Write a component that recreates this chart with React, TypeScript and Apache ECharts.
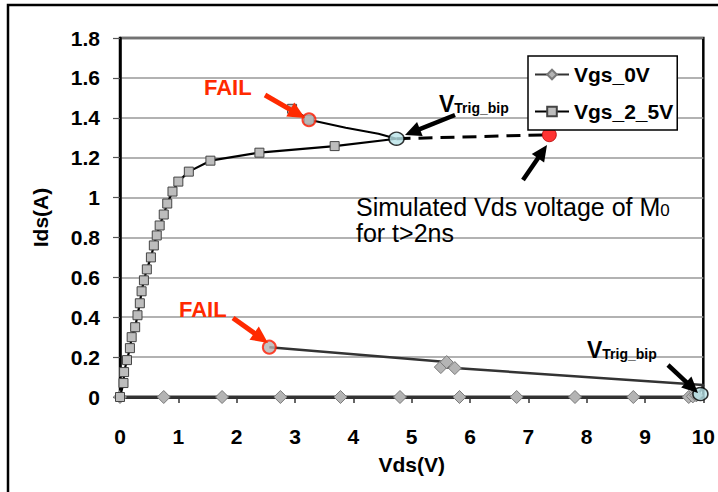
import React, { useEffect, useRef } from "react";
import * as echarts from "echarts";

// ---- data ----
const xTickLabels = ["0", "1", "2", "3", "4", "5", "6", "7", "8", "9", "10"];
const yTickLabels = ["0", "0.2", "0.4", "0.6", "0.8", "1", "1.2", "1.4", "1.6", "1.8"];

// Vgs = 0 V : sweep along zero current, then snapback branch
const vgs0Vds = [0, 0.75, 1.75, 2.75, 3.78, 4.8, 5.82, 6.8, 7.8, 8.8, 9.75, 9.82, 9.88, 9.95, 10.0, 5.74, 5.5, 5.6, 2.56];
const vgs0Ids = [0, 0, 0, 0, 0, 0, 0, 0, 0, 0, 0, 0.003, 0.008, 0.03, 0.06, 0.145, 0.15, 0.175, 0.25];
const vgs0Marked = [true, true, true, true, true, true, true, true, true, true, true, true, true, false, false, true, true, true, false];

// Vgs = 2.5 V
const vgs25Vds = [0, 0.06, 0.07, 0.12, 0.17, 0.2, 0.26, 0.3, 0.34, 0.37, 0.41, 0.46, 0.53, 0.58, 0.63, 0.68, 0.75, 0.81, 0.9, 1.0, 1.18, 1.55, 2.39, 3.68, 4.74, 4.43, 3.87, 3.24, 2.95];
const vgs25Ids = [0, 0.07, 0.125, 0.185, 0.245, 0.3, 0.35, 0.41, 0.47, 0.53, 0.585, 0.64, 0.7, 0.76, 0.81, 0.86, 0.915, 0.97, 1.03, 1.08, 1.13, 1.185, 1.225, 1.258, 1.295, 1.32, 1.35, 1.39, 1.445];
const vgs25Marked = [true, true, true, true, true, true, true, true, true, true, true, true, true, true, true, true, true, true, true, true, true, true, true, true, false, false, false, true, true];

// simulated Vds (dashed)
const simVds = [4.74, 7.36];
const simIds = [1.295, 1.315];

// highlighted points
const failVds = [3.24, 2.56];
const failIds = [1.39, 0.25];
const trigVds = [4.74, 9.95];
const trigIds = [1.295, 0.015];

const FONT = "'Liberation Sans', Arial, Helvetica, sans-serif";

function arrow(x1: number, y1: number, x2: number, y2: number, color: string, w: number, hl: number, hw: number) {
  const dx = x2 - x1, dy = y2 - y1;
  const len = Math.sqrt(dx * dx + dy * dy);
  const ux = dx / len, uy = dy / len;
  const px = -uy, py = ux;
  const bx = x2 - ux * hl, by = y2 - uy * hl;
  return [
    {
      type: "line",
      shape: { x1, y1, x2: x2 - ux * hl * 0.7, y2: y2 - uy * hl * 0.7 },
      style: { stroke: color, lineWidth: w },
      z: 100,
    },
    {
      type: "polygon",
      shape: { points: [[x2, y2], [bx + px * hw / 2, by + py * hw / 2], [bx - px * hw / 2, by - py * hw / 2]] },
      style: { fill: color },
      z: 100,
    },
  ];
}

export default function App() {
  const ref = useRef<HTMLDivElement>(null);
  useEffect(() => {
    const chart = echarts.init(ref.current!, null, { renderer: "svg" });
    const pts = (xs: number[], ys: number[], flags?: boolean[]) =>
      xs.map((x, i) => (flags && !flags[i] ? { value: [x, ys[i]], symbol: "none" } : [x, ys[i]]));

    const red = "#ff2a00";
    const trigRich = {
      v: { font: `bold 23px ${FONT}`, fill: "#000", lineHeight: 24, verticalAlign: "bottom" },
      s: { font: `bold 14px ${FONT}`, fill: "#000", lineHeight: 15, verticalAlign: "bottom" },
    };
    const graphics: any[] = [
      {
        type: "rect",
        shape: { x: 8, y: 5, width: 760, height: 540 },
        style: { fill: "none", stroke: "#000", lineWidth: 2.5 },
        z: 0,
      },
      { type: "text", x: 204, y: 87, style: { text: "FAIL", font: `bold 22px ${FONT}`, fill: red, textVerticalAlign: "middle" }, z: 100 },
      { type: "text", x: 179, y: 309, style: { text: "FAIL", font: `bold 22px ${FONT}`, fill: red, textVerticalAlign: "middle" }, z: 100 },
      {
        type: "text", x: 439, y: 103,
        style: { text: "{v|V}{s|Trig_bip}", rich: trigRich, textVerticalAlign: "middle" },
        z: 100,
      },
      {
        type: "text", x: 587, y: 349,
        style: { text: "{v|V}{s|Trig_bip}", rich: trigRich, textVerticalAlign: "middle" },
        z: 100,
      },
      {
        type: "text", x: 356, y: 205,
        style: {
          text: "{t|Simulated Vds voltage of M}{s|0}",
          rich: {
            t: { font: `25px ${FONT}`, fill: "#000", lineHeight: 28, verticalAlign: "bottom" },
            s: { font: `17px ${FONT}`, fill: "#000", lineHeight: 20, verticalAlign: "bottom" },
          },
          textVerticalAlign: "middle",
        },
        z: 100,
      },
      { type: "text", x: 356, y: 233, style: { text: "for t>2ns", font: `25px ${FONT}`, fill: "#000", textVerticalAlign: "middle" }, z: 100 },
      ...arrow(265, 95, 305, 118, red, 5, 17, 16),
      ...arrow(233, 318, 268, 343, red, 5, 17, 16),
      ...arrow(455, 115, 405, 135, "#000", 4.5, 16, 15),
      ...arrow(523, 180, 547, 145, "#000", 4.5, 16, 15),
      ...arrow(668, 365, 698, 393, "#000", 4.5, 16, 15),
    ];

    chart.setOption({
      animation: false,
      backgroundColor: "#fff",
      textStyle: { fontFamily: FONT },
      grid: { left: 120, top: 38, right: 11, bottom: 95, show: true, borderColor: "#000", borderWidth: 2.5 },
      legend: {
        data: ["Vgs_0V", "Vgs_2_5V"],
        orient: "vertical",
        left: 528,
        top: 56,
        backgroundColor: "#fff",
        borderColor: "#000",
        borderWidth: 1.5,
        borderRadius: 0,
        padding: [8, 4, 8, 6],
        itemGap: 16,
        itemWidth: 34,
        itemHeight: 12,
        textStyle: { fontWeight: "bold", fontSize: 21, fontFamily: FONT, color: "#000" },
        z: 50,
      },
      xAxis: {
        type: "value",
        min: 0,
        max: 10,
        interval: 1,
        name: "Vds(V)",
        nameLocation: "middle",
        nameGap: 57,
        nameTextStyle: { fontWeight: "bold", fontSize: 21, color: "#000", fontFamily: FONT },
        axisLine: { show: true, onZero: false, lineStyle: { color: "#000", width: 2.5 } },
        axisTick: { show: true, inside: false, length: 6, lineStyle: { color: "#333", width: 1.5 } },
        axisLabel: {
          margin: 29,
          fontWeight: "bold",
          fontSize: 21,
          color: "#000",
          fontFamily: FONT,
          formatter: (v: number) => xTickLabels[Math.round(v)] ?? "",
        },
        splitLine: { show: false },
      },
      yAxis: {
        type: "value",
        min: 0,
        max: 1.8,
        interval: 0.2,
        name: "Ids(A)",
        nameLocation: "middle",
        nameGap: 69,
        nameRotate: 90,
        nameTextStyle: { fontWeight: "bold", fontSize: 21, color: "#000", fontFamily: FONT },
        axisLine: { show: true, lineStyle: { color: "#000", width: 2.5 } },
        axisTick: { show: true, inside: false, length: 7, lineStyle: { color: "#555", width: 1.2 } },
        axisLabel: {
          margin: 20,
          fontWeight: "bold",
          fontSize: 21,
          color: "#000",
          fontFamily: FONT,
          formatter: (v: number) => yTickLabels[Math.round(v / 0.2)] ?? "",
        },
        splitLine: { show: true, lineStyle: { color: "#999", width: 1.5 } },
      },
      series: [
        {
          name: "Vgs_0V",
          type: "line",
          data: pts(vgs0Vds, vgs0Ids, vgs0Marked),
          symbol: "diamond",
          symbolSize: 13,
          showAllSymbol: true,
          color: "#b4b4b4",
          lineStyle: { color: "#333", width: 2.5 },
          itemStyle: { color: "#b4b4b4", borderColor: "#7a7a7a", borderWidth: 1 },
          z: 3,
        },
        {
          name: "Vgs_2_5V",
          type: "line",
          data: pts(vgs25Vds, vgs25Ids, vgs25Marked),
          symbol: "rect",
          symbolSize: 9,
          showAllSymbol: true,
          color: "#bdbdbd",
          lineStyle: { color: "#000", width: 2.2 },
          itemStyle: { color: "#bdbdbd", borderColor: "#444", borderWidth: 1 },
          z: 4,
        },
        {
          name: "sim",
          type: "line",
          data: pts(simVds, simIds),
          symbol: "none",
          lineStyle: { color: "#000", width: 3, type: [14, 8] },
          z: 4,
        },
        {
          name: "fail",
          type: "scatter",
          data: pts(failVds, failIds),
          symbol: "circle",
          symbolSize: 13,
          itemStyle: { color: "#b4b4b4", borderColor: "#ff1a00", borderWidth: 2 },
          z: 6,
        },
        {
          name: "trig",
          type: "scatter",
          data: pts(trigVds, trigIds),
          symbol: "circle",
          symbolSize: [15, 13],
          itemStyle: { color: "#b9e3e8", borderColor: "#000", borderWidth: 1.5 },
          z: 6,
        },
        {
          name: "simEnd",
          type: "scatter",
          data: [[simVds[1], simIds[1]]],
          symbol: "circle",
          symbolSize: 14,
          itemStyle: { color: "#ff0000", borderColor: "#b00000", borderWidth: 1 },
          z: 6,
        },
      ],
      graphic: graphics,
    });
    return () => chart.dispose();
  }, []);
  return <div ref={ref} style={{ position: "absolute", left: 0, top: 0, width: 718, height: 492 }} />;
}
